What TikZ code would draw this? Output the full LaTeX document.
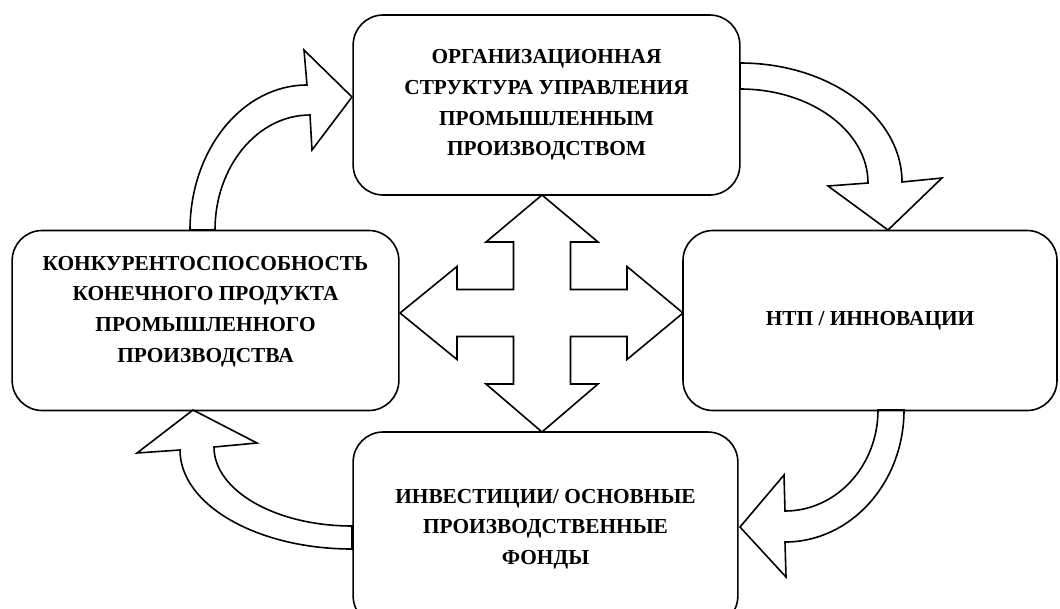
\documentclass[tikz,border=0pt]{standalone}
\usepackage{fontspec}
\setmainfont{Liberation Serif}
\begin{document}
\begin{tikzpicture}[x=0.75pt,y=-0.75pt,line width=1.2pt,line join=miter,
box node/.style={draw,rounded corners=22.5pt,align=center,minimum width=290pt,minimum height=135pt,inner sep=0pt,font=\fontsize{16}{23}\selectfont\bfseries}]
\useasboundingbox (0,0) rectangle (1060,608);
\begin{scope}
\node[box node] (org) at (546.5,105) {ОРГАНИЗАЦИОННАЯ\\СТРУКТУРА УПРАВЛЕНИЯ\\ПРОМЫШЛЕННЫМ\\ПРОИЗВОДСТВОМ};%top
\node[box node,minimum width=280.5pt] (ntp) at (870,320.5) {НТП / ИННОВАЦИИ};%right
\node[box node,text depth=17pt] (konk) at (205.5,320.5) {КОНКУРЕНТОСПОСОБНОСТЬ\\КОНЕЧНОГО ПРОДУКТА\\ПРОМЫШЛЕННОГО\\ПРОИЗВОДСТВА};%left
\node[box node,minimum width=288.5pt,minimum height=145.5pt] (inv) at (545.5,529) {ИНВЕСТИЦИИ/ ОСНОВНЫЕ\\ПРОИЗВОДСТВЕННЫЕ\\ФОНДЫ};%bottom
\end{scope}
% cross arrow in the middle
\coordinate (hub) at (542,313);
\draw[shift={(hub)}] (0,-118) -- (56,-71) -- (28.5,-71) -- (28.5,-23.5) -- (85,-23.5) -- (85,-46.5) -- (141,0) -- (85,46.5) -- (85,23.5) -- (28.5,23.5) -- (28.5,71) -- (56,71) -- (0,119) -- (-56,71) -- (-28.5,71) -- (-28.5,23.5) -- (-85,23.5) -- (-85,46.5) -- (-142,0) -- (-85,-46.5) -- (-85,-23.5) -- (-28.5,-23.5) -- (-28.5,-71) -- (-56,-71) -- cycle;
% curved arrows
\draw (190,230) arc[start angle=180,end angle=270,x radius=117,y radius=145] -- (304,50) -- (352,97) -- (312,150) -- (310,115) arc[start angle=270,end angle=180,x radius=95,y radius=115] -- cycle;%konk->org
\draw (740,63) arc[start angle=270,end angle=360,x radius=162,y radius=119] -- (942,178) -- (888,230) -- (828,186) -- (868,183) arc[start angle=0,end angle=-90,x radius=128,y radius=94] -- cycle;%org->ntp
\draw (904,410) arc[start angle=0,end angle=90,x radius=119,y radius=132] -- (786,577) -- (740,527) -- (784,475) -- (785,511) arc[start angle=90,end angle=0,x radius=93,y radius=101] -- cycle;%ntp->inv
\draw (352,549) arc[start angle=90,end angle=180,x radius=172,y radius=99] -- (137,453) -- (193,410) -- (257,443) -- (214,447) arc[start angle=180,end angle=90,x radius=138,y radius=79] -- cycle;%inv->konk
\end{tikzpicture}
\end{document}
